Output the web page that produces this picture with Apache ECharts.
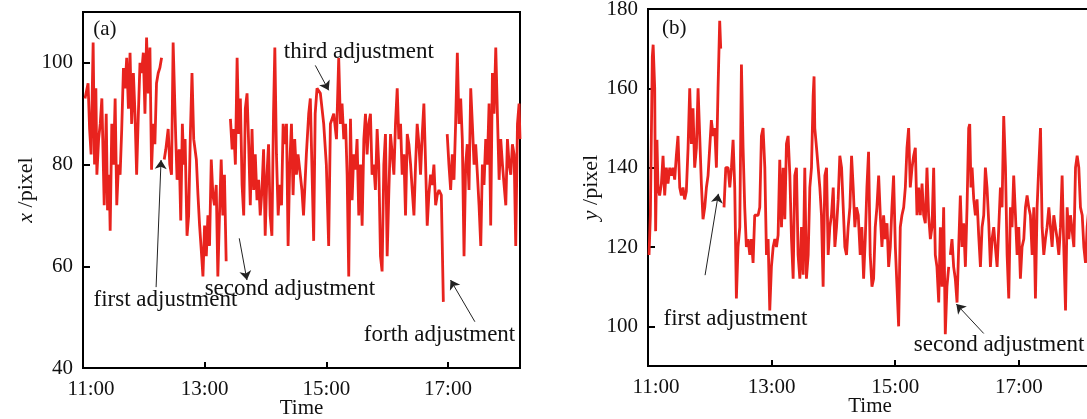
<!DOCTYPE html>
<html><head><meta charset="utf-8">
<script src="https://cdn.jsdelivr.net/npm/echarts@6/dist/echarts.min.js"></script>
<style>html,body{margin:0;padding:0;background:#fff}#c{width:1087px;height:419px}</style>
</head><body><div id="c"></div>
<script>
// time axis: minutes after 11:00
const timeTicks = [0, 120, 240, 360];
const timeTickLabels = ['11:00', '13:00', '15:00', '17:00'];
const xPixelTicks = [40, 60, 80, 100];
const yPixelTicks = [100, 120, 140, 160, 180];

// (a) x / pixel  — [minute, value]; null marks a break (adjustment)
const seriesX = [
[2,93],[5,96],[6.5,87],[8,82],[10,104],[11.4,80],[12.7,95],[13.7,78],[15.4,85],[17,88],[18.6,93],[20.9,72],[22.9,90],[24.2,71],[25.8,78],[26.8,67],[28.4,88],[30.1,80],[31.7,93],[33.3,72],[35,80],[36.6,78],[38.2,87],[39.9,99],[41.5,95],[43.1,101],[44.8,91],[46.4,102],[48,88],[49.7,98],[51.3,90],[52.9,78],[54.6,90],[56.2,100],[57.8,98],[59.5,102],[61.1,90],[62.7,105],[64.4,94],[66,103],[67.6,79],[69.3,88],[70.9,84],[72.5,96],[74.2,98],[75.8,99],[77.5,101],
null,
[80.1,81],[81.7,83],[84,87],[85.6,80],[87.3,78],[88.9,104],[91.5,85],[92.8,77],[94.8,83],[96.4,69],[98,88],[99.3,80],[100.7,85],[102.6,66],[104.2,70],[105.9,86],[107.5,98],[109.2,85],[111.8,81],[113.4,74],[115,68],[116.7,63],[118.3,58],[119.9,68],[121.6,62],[123.2,70],[124.8,64],[126.5,81],[128.1,74],[129.7,72],[131.4,76],[133,58],[134.6,70],[136.3,81],[137.9,70],[139.5,78],[141.2,61],
null,
[145.4,89],[147.1,83],[148.7,87],[150.3,80],[152,101],[153.6,86],[155.2,93],[156.9,76],[158.5,70],[160.1,91],[161.8,94],[163.4,84],[165,72],[166.7,87],[168.3,75],[169.9,82],[171.6,73],[173.2,77],[174.8,70],[176.5,75],[178.1,83],[179.7,66],[181.4,78],[183,84],[184.6,70],[186.3,66],[187.9,90],[189.2,103],[190.8,82],[192.5,70],[194.1,76],[195.8,72],[197.4,88],[199,84],[200.7,88],[202.3,64],[203.9,80],[205.6,88],[207.2,74],[208.8,85],[210.5,78],[212.1,82],
[214.3,78],[215.9,75],[217.5,70],[220.3,82],[222.6,90],[224.2,93],[227.5,65],[229,90],[230.8,95],[234.1,94],[237.4,88],[240,80],[242.3,64],[244,88],[247.3,90],[250,85],[252.2,101],[253.9,88],[255.5,92],[257.2,85],[259,88],[260.5,78],[262.1,58],[263.8,89],[265.4,73],[267,82],[268.7,79],[270.3,85],[272,70],[273.7,80],[275.3,68],[277,85],[278.6,90],[280.2,82],[281.8,88],[283.5,90],[285.1,78],[286.8,80],[288.4,75],[290.1,87],[291.7,80],[293.4,62],[295,59],[296.7,80],[298.3,86],[300,62],[301.7,75],[303.3,86],[305,82],[306.6,78],[308.2,88],[309.9,95],[311.5,85],[313.2,88],[314.8,78],[316.5,82],[318.1,70],[319.8,86],[321.4,84],[323.1,80],[324.7,75],[326.4,70],[328,80],[329.6,88],[331.3,84],[332.9,78],[334.6,86],[336.2,92],[337.9,80],[339.5,68],[341.1,74],[342.8,78],[344.4,76],[346.1,80],[347.8,72],[349.4,74],[351.1,75],[353.4,74],[355.4,53],
null,
[359.2,86],[360.9,80],[362.6,75],[364.2,82],[365.9,77],[367.5,88],[369.2,102],[370.8,88],[372.5,93],[374.1,85],[375.8,62],[377.4,80],[379,84],[380.7,75],[382.4,95],[384,88],[385.7,80],[387.3,84],[389,78],[390.6,72],[392.3,64],[393.9,80],[395.5,76],[397.2,85],[398.8,80],[400.5,92],[402.1,68],[403.8,98],[405.4,90],[407.1,103],[408.7,90],[410.4,77],[412,85],[413.7,80],[415.3,76],[417,72],[418.6,85],[420.3,80],[421.9,78],[423.5,84],[425.2,82],[426.8,64],[428.5,88],[430.1,92],[431,85]
];

// (b) y / pixel
const seriesY = [
[1,118],[2.3,128],[4.2,168],[5,171],[6.5,160],[7.4,124],[8.7,147],[9.7,135],[11.3,133],[13,136],[14.6,143],[16.2,133],[17.8,140],[19.4,136],[21.1,140],[22.7,138],[24.3,140],[25.9,137],[27.5,143],[29.1,148],[30.8,135],[32.4,133],[34,135],[35.6,132],[37.2,134],[38.9,145],[40.5,160],[42.1,146],[43.7,155],[45.3,140],[47,145],[48.6,160],[50.2,148],[51.8,136],[53.4,127],[55.1,130],[56.7,135],[58.3,138],[59.9,145],[61.5,152],[63.2,148],[64.8,150],[66.4,140],[68,160],[69.6,177],[70.6,170],
null,
[73.8,130],[75.5,140],[77.7,140],[79.4,135],[81,140],[82.6,147],[84.2,135],[85.8,107],[87.4,120],[89.1,125],[90.7,166],[92.3,145],[93.9,130],[95.5,120],[97.2,122],[98.8,118],[100.4,122],[102,116],[103.6,128],[105.3,128],[106.9,128],[108.5,130],[110.1,148],[111.7,150],[113.4,140],[115,118],[116.6,122],[118.2,104],[119.8,115],[121.5,120],[123.1,122],[124.7,120],[126.3,123],[127.9,142],[129.6,125],[131.2,140],[132.8,127],[134.4,146],[136,148],[137.7,138],[139.3,122],[140.9,112],[142.5,138],[144.1,140],[145.7,118],[147.4,112],[149,125],[150.6,113],[152.2,140],[153.8,112],[155.5,118],[157.1,135],[158.7,140],[160.3,158],[161.2,163],[161.9,150],[163.6,145],[165.2,140],[166.8,135],[168.4,128],[170,110],[171.7,138],[173.3,140],[174.9,118],[176.5,125],[178.1,128],[179.8,135],[181.4,120],[183,125],[184.6,132],[186.2,143],[187.9,140],[189.5,130],[191.1,120],[192.7,118],[194.3,125],[196,130],[197.6,143],[199.2,135],[200.8,125],[202.4,130],[204.1,128],
[206,118],[207.6,125],[209.3,112],[210.9,122],[212.5,135],[214.1,144],[215.7,118],[217.4,110],[219,112],[220.6,125],[222.2,130],[223.9,138],[225.5,128],[227.1,120],[228.7,128],[230.3,122],[232,126],[233.6,115],[235.2,120],[236.8,130],[238.4,138],[240.1,120],[241.7,110],[243.3,100],[244.9,125],[246.5,128],[248.2,130],[249.8,135],[251.4,145],[253,150],[254.6,135],[256.3,140],[257.9,143],[259.5,145],[261.1,128],[262.7,135],[264.3,128],[266,136],[267.6,128],[269.2,126],[270.8,140],[272.4,128],[274.1,122],[275.7,125],[277.3,140],[278.9,118],[280.5,115],[282.2,106],[283.8,125],[285.4,110],[287,130],[288.6,98],[290.2,110],[291.9,115],
null,
[293.5,118],[295.1,122],[296.7,115],[298.3,112],[300,106],[301.6,120],[303.2,133],[304.8,120],[306.4,126],[308.1,115],[309.7,130],[311.3,150],[312.3,151],[313.5,135],[314.6,140],[316.2,132],[317.8,128],[319.4,132],[321,123],[322.7,115],[324.3,125],[325.9,128],[327.5,140],[329.1,135],[330.8,126],[332.4,115],[334,122],[335.6,125],[337.2,120],[338.9,115],[340.5,125],[342.1,135],[343.7,130],[345.3,153],[347,140],[348.6,118],[350.2,107],[351.8,130],[353.4,125],[355,138],[356.7,128],[358.3,118],[359.9,125],[361.5,112],[363.1,120],[364.8,122],[366.4,130],[368,133],[369.6,130],[371.2,128],[372.9,118],[374.5,130],[376.1,107],[377.7,130],[379.3,140],[381,150],[382.6,125],[384.2,118],[385.8,122],[387.4,125],[389.1,130],[390.7,125],[392.3,120],[393.9,128],[395.5,125],[397.2,122],[398.8,118],[400.4,125],[402,138],[403.6,120],[405.3,104],[406.9,130],[408.5,122],[410.1,128],[411.8,124],[413.4,120],[415,140],[416.6,143],[418.2,140],[419.8,130],[421.5,128],[423.1,120],[424.7,116],[426.3,125],[428,130],[431,128]
];

// annotation texts and arrows (in data coordinates of each panel)
const notesA = [
  {text: '(a)', at: [9.5, 106.6], size: 21},
  {text: 'third adjustment', at: [197.5, 102.2], from: [229.1, 99.5], to: [242.3, 94.6]},
  {text: 'second adjustment', at: [119.5, 55.6], from: [154.1, 65.5], to: [161.7, 57.3]},
  {text: 'first adjustment', at: [9.9, 53.3], from: [72.1, 55.9], to: [77, 80.9]},
  {text: 'forth adjustment', at: [276.5, 46.5], from: [386.5, 49.1], to: [362.5, 57.3]}
];
const notesB = [
  {text: '(b)', at: [13, 175.2], size: 21},
  {text: 'first adjustment', at: [14.6, 101.8], from: [55.4, 112.9], to: [68.3, 133.4]},
  {text: 'second adjustment', at: [257.5, 95.2], from: [325.9, 98.2], to: [299.3, 105.6]}
];

const FONT = '"Liberation Serif", "DejaVu Serif", serif';
const RED = '#e8231e';

function toData(arr) {
  const out = [];
  arr.forEach((p, i) => {
    if (p === null) out.push([arr[i - 1][0] + 0.5, '-']);
    else out.push(p);
  });
  return out;
}

function xAxisFor(gi) {
  return {
    type: 'value', gridIndex: gi, min: 0, max: 431,
    name: 'Time', nameLocation: 'middle', nameGap: 30, nameMoveOverlap: false,
    nameTextStyle: {fontFamily: FONT, fontSize: 21, color: '#111'},
    axisLine: {show: true, onZero: false, lineStyle: {color: '#000', width: 2}},
    axisTick: {show: true, inside: true, length: 6, customValues: timeTicks, lineStyle: {color: '#000', width: 2}},
    axisLabel: {
      customValues: timeTicks, margin: 11,
      fontFamily: FONT, fontSize: 21, color: '#111',
      formatter: v => {
        const i = timeTicks.indexOf(v);
        const s = timeTickLabels[i];
        return i === 0 ? '{f|' + s + '}' : s;
      },
      rich: {f: {fontFamily: FONT, fontSize: 21, color: '#111', padding: [0, 0, 0, 16]}}
    },
    splitLine: {show: false}
  };
}

function yAxisFor(gi, min, max, ticks, letter) {
  return {
    type: 'value', gridIndex: gi, min: min, max: max,
    name: '{i|' + letter + '} /pixel', nameLocation: 'middle', nameGap: 46, nameRotate: 90, nameMoveOverlap: false,
    nameTextStyle: {fontFamily: FONT, fontSize: 22, color: '#111',
      rich: {i: {fontFamily: FONT, fontSize: 22, fontStyle: 'italic', color: '#111'}}},
    axisLine: {show: true, onZero: false, lineStyle: {color: '#000', width: 2}},
    axisTick: {show: true, inside: true, length: 7, customValues: ticks, lineStyle: {color: '#000', width: 2}},
    axisLabel: {customValues: ticks, margin: 10, fontFamily: FONT, fontSize: 21, color: '#111'},
    splitLine: {show: false}
  };
}

function seriesFor(gi, arr, notes) {
  return {
    type: 'line', xAxisIndex: gi, yAxisIndex: gi,
    data: toData(arr), showSymbol: false, connectNulls: false,
    lineStyle: {color: RED, width: 2.8}, itemStyle: {color: RED},
    clip: true, silent: true,
    markPoint: {
      silent: true, symbol: 'circle', symbolSize: 1,
      itemStyle: {color: 'rgba(0,0,0,0)'},
      data: notes.map(n => ({
        coord: n.at,
        label: {show: true, position: 'right', distance: 0, formatter: n.text,
          fontFamily: FONT, fontSize: n.size || 23, color: '#111'}
      }))
    },
    markLine: {
      silent: true, symbol: ['none', 'arrow'], symbolSize: 9,
      lineStyle: {color: '#222', width: 1, type: 'solid'},
      itemStyle: {color: '#222'},
      label: {show: false},
      data: notes.filter(n => n.from).map(n => [{coord: n.from}, {coord: n.to}])
    }
  };
}

const chart = echarts.init(document.getElementById('c'), null, {renderer: 'canvas'});
chart.setOption({
  animation: false,
  backgroundColor: '#fff',
  grid: [
    {left: 83, top: 12, width: 437, height: 356, outerBoundsMode: 'none', containLabel: false,
     show: true, borderColor: '#000', borderWidth: 2, backgroundColor: 'transparent'},
    {left: 648, top: 9, width: 444, height: 357, outerBoundsMode: 'none', containLabel: false,
     show: true, borderColor: '#000', borderWidth: 2, backgroundColor: 'transparent'}
  ],
  xAxis: [xAxisFor(0), xAxisFor(1)],
  yAxis: [yAxisFor(0, 40, 110, xPixelTicks, 'x'), yAxisFor(1, 90, 180, yPixelTicks, 'y')],
  series: [seriesFor(0, seriesX, notesA), seriesFor(1, seriesY, notesB)]
});
</script>
</body></html>
